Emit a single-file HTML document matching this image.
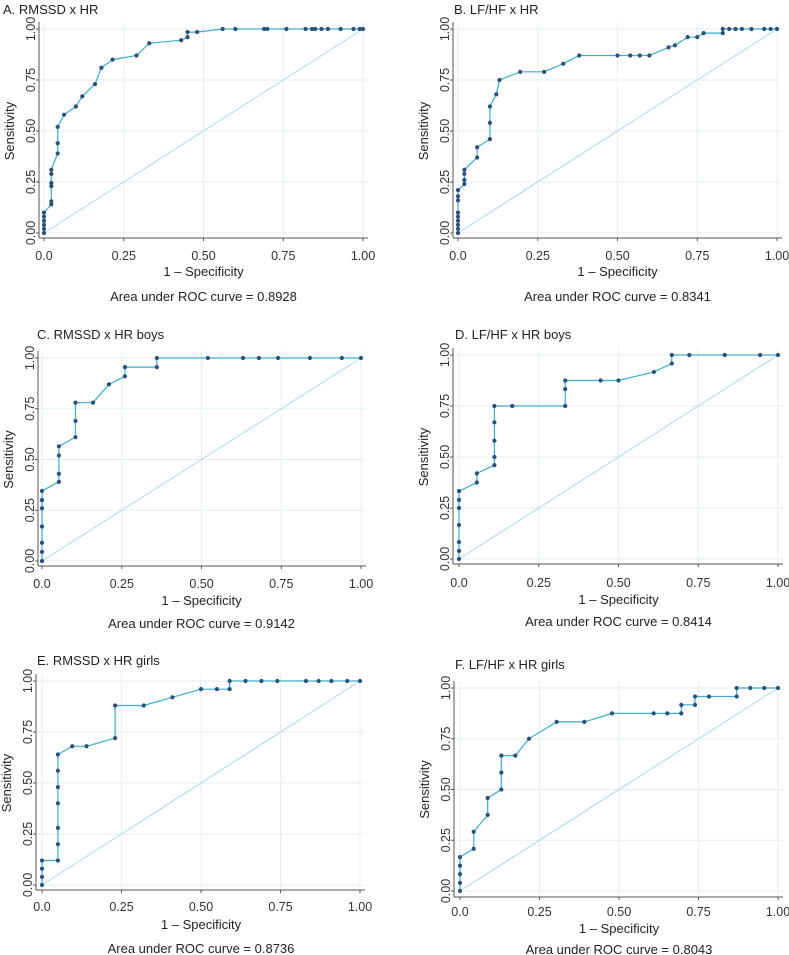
<!DOCTYPE html>
<html><head><meta charset="utf-8"><style>
html,body{margin:0;padding:0;background:#fff}
svg{display:block;font-family:"Liberation Sans",sans-serif}
</style></head><body>
<svg id="fig" width="789" height="955" viewBox="0 0 789 955" xmlns="http://www.w3.org/2000/svg"></svg>
<script>
const tickValues=[0,0.25,0.5,0.75,1];
const xTickLabels=["0.0","0.25","0.50","0.75","1.00"];
const yTickLabels=["0.00","0.25","0.50","0.75","1.00"];
const titles=["A. RMSSD x HR","B. LF/HF x HR","C. RMSSD x HR boys","D. LF/HF x HR boys","E. RMSSD x HR girls","F. LF/HF x HR girls"];
const aucLabels=["0.8928","0.8341","0.9142","0.8414","0.8736","0.8043"];
const aX=[0,0,0,0,0,0,.023,.023,.023,.023,.023,.023,.043,.043,.043,.063,.1,.12,.16,.18,.215,.29,.33,.43,.45,.45,.48,.56,.6,.69,.7,.76,.82,.84,.85,.87,.89,.93,.97,.99,1];
const aY=[0,.02,.04,.06,.08,.1,.14,.155,.23,.245,.29,.31,.39,.44,.52,.58,.62,.67,.73,.81,.85,.87,.93,.945,.96,.985,.985,1,1,1,1,1,1,1,1,1,1,1,1,1,1];
const bX=[0,0,0,0,0,0,0,0,0,.02,.02,.02,.02,.06,.06,.1,.1,.1,.12,.13,.195,.27,.33,.38,.5,.54,.57,.6,.66,.68,.72,.75,.77,.83,.83,.85,.87,.89,.92,.96,.98,1];
const bY=[0,.02,.04,.06,.08,.1,.16,.18,.21,.24,.26,.29,.31,.37,.42,.46,.54,.62,.68,.75,.79,.79,.83,.87,.87,.87,.87,.87,.91,.92,.96,.96,.98,.98,1,1,1,1,1,1,1,1];
const cX=[0,0,0,0,0,0,0,.053,.053,.053,.053,.105,.105,.105,.16,.21,.26,.26,.36,.36,.52,.63,.68,.74,.84,.94,1];
const cY=[0,.045,.09,.17,.26,.3,.345,.39,.43,.52,.565,.61,.69,.78,.78,.87,.91,.955,.955,1,1,1,1,1,1,1,1];
const dX=[0,0,0,0,0,0,0,.056,.056,.111,.111,.111,.111,.111,.167,.333,.333,.333,.444,.5,.611,.667,.667,.722,.833,.944,1];
const dY=[0,.04,.083,.167,.25,.29,.333,.375,.42,.46,.5,.58,.67,.75,.75,.75,.833,.875,.875,.875,.917,.958,1,1,1,1,1];
const eX=[0,0,0,0,.05,.05,.05,.05,.05,.05,.05,.095,.14,.23,.23,.32,.41,.5,.55,.59,.59,.64,.69,.74,.83,.87,.91,.96,1];
const eY=[0,.04,.08,.12,.12,.2,.28,.4,.48,.56,.64,.68,.68,.72,.88,.88,.92,.96,.96,.96,1,1,1,1,1,1,1,1,1];
const fX=[0,0,0,0,0,.043,.043,.087,.087,.13,.13,.13,.174,.217,.304,.391,.478,.609,.652,.696,.696,.739,.739,.783,.87,.87,.913,.957,1];
const fY=[0,.04,.083,.125,.167,.208,.292,.375,.458,.5,.583,.667,.667,.75,.833,.833,.875,.875,.875,.875,.917,.917,.958,.958,.958,1,1,1,1];
const seriesX=[aX,bX,cX,dX,eX,fX];
const seriesY=[aY,bY,cY,dY,eY,fY];
// layout: x0,x1,yTop(1.0),yBot(0), axisLeft, axisBottom, titleY, tickY, xlabY, aucY, titleX
const layout=[
 [44,363,29,233,39,238,14,256,276,301,3],
 [458,777,29,233,453,238,14,256,276,301,454],
 [42,361,358,561,38,566,339,584,605,628,37],
 [459,778,355,559,453,564,339,583,604,626,455],
 [42,360,681,885,36,890,665,907,929,953,37],
 [460,778,688,891,454,897,669,912,933,954,455]
];
const NS="http://www.w3.org/2000/svg";
const svg=document.getElementById('fig');
function mk(tag,attrs,parent){const e=document.createElementNS(NS,tag);for(const k in attrs)e.setAttribute(k,attrs[k]);(parent||svg).appendChild(e);return e;}
layout.forEach((L,i)=>{
 const [x0,x1,yT,yB,axL,axB,tY,tkY,xlY,aucY,tX]=L;
 const sx=v=>x0+v*(x1-x0), sy=v=>yB-v*(yB-yT);
 const right=x1+5, top=yT-7;
 const g=mk('g',{});
 
 
 tickValues.forEach(t=>{
  const gx=mk('line',{x1:sx(t),x2:sx(t),y1:top,y2:axB,stroke:'#e3eff3','stroke-width':1},g);
  
  const gy=mk('line',{x1:axL,x2:right,y1:sy(t),y2:sy(t),stroke:'#e3eff3','stroke-width':1},g);
  
 });
 const diag=mk('line',{x1:sx(0),y1:sy(0),x2:sx(1),y2:sy(1),stroke:'#a9d9e6','stroke-width':1},g);
 
 const ax=mk('line',{x1:axL,x2:axL,y1:top,y2:axB,stroke:'#555','stroke-width':1},g);
 
 const bx=mk('line',{x1:axL,x2:right,y1:axB,y2:axB,stroke:'#555','stroke-width':1},g);
 
 tickValues.forEach((t,k)=>{
  mk('line',{x1:sx(t),x2:sx(t),y1:axB,y2:axB+3,stroke:'#555'},g);
  mk('line',{x1:axL-3,x2:axL,y1:sy(t),y2:sy(t),stroke:'#555'},g);
  const xl=mk('text',{x:sx(t),y:tkY+4,'text-anchor':'middle','font-size':12.5,fill:'#333'},g);
  xl.textContent=xTickLabels[k];
  
  const yx=axL-4;
  const yl=mk('text',{x:yx,y:sy(t),'text-anchor':'middle','font-size':12.5,fill:'#333',transform:`rotate(-90 ${yx} ${sy(t)})`},g);
  yl.textContent=yTickLabels[k];
  
 });
 const X=seriesX[i],Y=seriesY[i];
 const pts=X.map((v,k)=>sx(v).toFixed(1)+','+sy(Y[k]).toFixed(1)).join(' ');
 const pl=mk('polyline',{points:pts,fill:'none',stroke:'#3aaecb','stroke-width':1.2},g);
 
 X.forEach((v,k)=>{
  const c=mk('circle',{cx:sx(v),cy:sy(Y[k]),r:2.1,fill:'#2c5079'},g);
  
  
 });
 const tt=mk('text',{x:tX,y:tY,'font-size':13,fill:'#222'},g);
 tt.textContent=titles[i];
 
 const ylab=axL-25, ymid=(yT+yB)/2;
 const yt=mk('text',{x:ylab,y:ymid,'text-anchor':'middle','font-size':13,fill:'#222',transform:`rotate(-90 ${ylab} ${ymid})`},g);
 yt.textContent='Sensitivity';
 
 const xt=mk('text',{x:(x0+x1)/2,y:xlY,'text-anchor':'middle','font-size':13,fill:'#222'},g);
 xt.textContent='1 – Specificity';
 
 const at=mk('text',{x:(x0+x1)/2,y:aucY,'text-anchor':'middle','font-size':13,fill:'#222'},g);
 at.textContent='Area under ROC curve = '+aucLabels[i];
 
});
</script>
</body></html>
